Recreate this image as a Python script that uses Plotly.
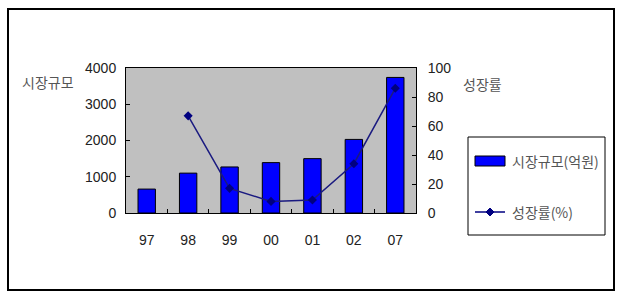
import plotly.graph_objects as go

categories = ["97", "98", "99", "00", "01", "02", "07"]
market_size = [660, 1100, 1270, 1390, 1500, 2030, 3740]
growth_rate = [None, 67, 17, 8, 9, 34, 86]
left_ticks = [0, 1000, 2000, 3000, 4000]
right_ticks = [0, 20, 40, 60, 80, 100]

W, H = 621, 292
L, R, T, B = 126, 416, 68, 213
pw, ph = R - L, B - T

def px(x):
    return (x - L) / pw

def py(y):
    return (B - y) / ph

num_font = dict(family="Liberation Sans Narrow, Liberation Sans, Arial", size=14, color="#222")
kr_font = dict(family="Noto Sans CJK KR", size=14, color="#555")

fig = go.Figure()
fig.add_trace(go.Bar(x=categories, y=market_size, name="시장규모(억원)",
                     marker=dict(color="#0000FF", line=dict(color="#000", width=1)),
                     showlegend=False))
fig.add_trace(go.Scatter(x=categories, y=growth_rate, name="성장률(%)", yaxis="y2",
                         mode="lines+markers", line=dict(color="#1a1a80", width=1.5),
                         marker=dict(symbol="diamond", size=7, color="#000080"),
                         showlegend=False))

fig.update_layout(
    width=W, height=H,
    margin=dict(l=L, r=W - R, t=T, b=H - B),
    paper_bgcolor="white", plot_bgcolor="#C0C0C0",
    bargap=0.58,
    xaxis=dict(type="category", showline=True, linecolor="#000", linewidth=1, mirror=True,
               ticks="inside", tickson="boundaries", ticklen=4, tickcolor="#000",
               tickfont=num_font, ticklabelstandoff=14, showgrid=False),
    yaxis=dict(range=[0, 4000], tickvals=left_ticks, showline=True, linecolor="#000",
               ticks="inside", ticklen=4, tickcolor="#000", tickfont=num_font,
               ticklabelstandoff=6, showgrid=False, zeroline=False),
    yaxis2=dict(range=[0, 100], tickvals=right_ticks, overlaying="y", side="right",
                showline=True, linecolor="#000", ticks="inside", ticklen=4, tickcolor="#000",
                tickfont=num_font, ticklabelstandoff=8, showgrid=False, zeroline=False),
    shapes=[
        dict(type="rect", xref="paper", yref="paper", x0=px(8), x1=px(614), y0=py(290), y1=py(9),
             line=dict(color="#000", width=2), layer="below"),
        dict(type="rect", xref="paper", yref="paper", x0=px(468), x1=px(605), y0=py(235), y1=py(137),
             line=dict(color="#000", width=1)),
        dict(type="rect", xref="paper", yref="paper", x0=px(475), x1=px(505), y0=py(166), y1=py(156),
             fillcolor="#0000FF", line=dict(color="#000", width=1)),
        dict(type="line", xref="paper", yref="paper", x0=px(475), x1=px(505), y0=py(212), y1=py(212),
             line=dict(color="#000080", width=1.5)),
        dict(type="path", xref="paper", yref="paper",
             path=f"M {px(490)} {py(208)} L {px(494)} {py(212)} L {px(490)} {py(216)} L {px(486)} {py(212)} Z",
             fillcolor="#000080", line=dict(color="#000080", width=1)),
    ],
    annotations=[
        dict(text="시장규모", xref="paper", yref="paper", x=px(48), y=py(82), xanchor="center",
             yanchor="middle", showarrow=False, font=kr_font),
        dict(text="성장률", xref="paper", yref="paper", x=px(482), y=py(84), xanchor="center",
             yanchor="middle", showarrow=False, font=kr_font),
        dict(text="시장규모(억원)", xref="paper", yref="paper", x=px(510), y=py(161), xanchor="left",
             yanchor="middle", showarrow=False, font=kr_font),
        dict(text="성장률(%)", xref="paper", yref="paper", x=px(510), y=py(212), xanchor="left",
             yanchor="middle", showarrow=False, font=kr_font),
    ],
)

fig.write_html("out.html")
